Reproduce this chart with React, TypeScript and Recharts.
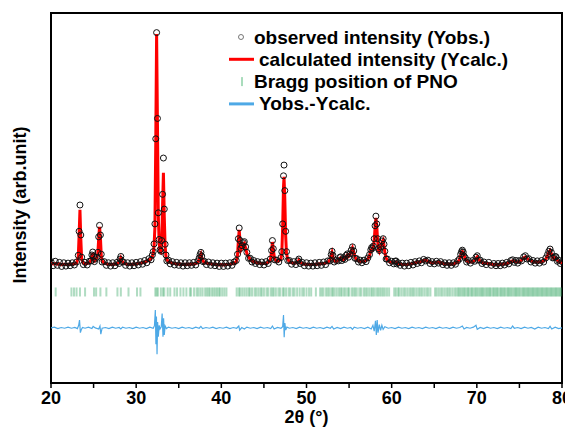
import React from 'react';
import {
  ComposedChart,
  Line,
  Scatter,
  XAxis,
  YAxis,
  ReferenceArea,
  Legend,
} from 'recharts';

// 2theta (deg) vs intensity (arb. units, 0-100 on the plot scale)
const calculated: [number, number][] = [
  [20.0, 32.4], [20.25, 32.2], [20.5, 32.3], [20.75, 32.1], [21.0, 32.2], [21.25, 32.0],
  [21.5, 32.1], [21.75, 32.0], [22.0, 32.1], [22.25, 32.0], [22.5, 32.1], [22.75, 32.2],
  [23.0, 32.4], [23.2, 34.0], [23.3, 40.0], [23.4, 46.8], [23.5, 39.0], [23.6, 33.5],
  [23.8, 32.4], [24.0, 32.2], [24.25, 32.3], [24.5, 32.5], [24.7, 33.2], [24.8, 34.3],
  [24.9, 35.1], [25.0, 34.0], [25.1, 33.0], [25.2, 33.2], [25.4, 34.0], [25.5, 35.0],
  [25.6, 39.0], [25.7, 42.2], [25.8, 39.5], [25.9, 34.5], [26.0, 33.0], [26.25, 32.4],
  [26.5, 32.2], [26.75, 32.1], [27.0, 32.0], [27.25, 32.1], [27.5, 32.1], [27.75, 32.2],
  [28.0, 32.6], [28.1, 33.2], [28.2, 33.8], [28.35, 33.0], [28.5, 32.4], [28.75, 32.2],
  [29.0, 32.1], [29.25, 32.0], [29.5, 32.1], [29.75, 32.1], [30.0, 32.2], [30.25, 32.3],
  [30.5, 32.4], [30.75, 32.5], [31.0, 32.7], [31.25, 32.9], [31.5, 33.2], [31.75, 33.6],
  [31.9, 34.2], [32.0, 35.0], [32.1, 37.0], [32.2, 42.0], [32.3, 65.0], [32.4, 94.3],
  [32.5, 70.0], [32.6, 45.0], [32.7, 38.0], [32.8, 35.5], [32.9, 35.3], [33.0, 38.0],
  [33.1, 48.0], [33.2, 56.8], [33.3, 45.0], [33.4, 37.0], [33.5, 34.2], [33.6, 33.3],
  [33.8, 32.8], [34.0, 32.6], [34.25, 32.4], [34.5, 32.3], [34.75, 32.2], [35.0, 32.1],
  [35.25, 32.1], [35.5, 32.0], [35.75, 32.1], [36.0, 32.0], [36.25, 32.1], [36.5, 32.1],
  [36.75, 32.2], [37.0, 32.3], [37.25, 32.6], [37.4, 33.4], [37.5, 34.4], [37.6, 34.9],
  [37.7, 34.0], [37.85, 33.0], [38.0, 32.6], [38.25, 32.4], [38.5, 32.3], [38.75, 32.2],
  [39.0, 32.1], [39.25, 32.0], [39.5, 32.0], [39.75, 31.9], [40.0, 32.0], [40.25, 31.9],
  [40.5, 32.0], [40.75, 32.0], [41.0, 32.1], [41.25, 32.2], [41.5, 32.3], [41.75, 32.8],
  [41.9, 34.5], [42.0, 38.5], [42.1, 41.4], [42.2, 38.0], [42.3, 36.0], [42.45, 36.8],
  [42.6, 37.6], [42.7, 37.8], [42.85, 36.5], [43.0, 35.0], [43.2, 34.0], [43.4, 33.4],
  [43.6, 33.0], [43.8, 32.8], [44.0, 32.6], [44.25, 32.5], [44.5, 32.4], [44.75, 32.3],
  [45.0, 32.3], [45.25, 32.4], [45.5, 32.6], [45.75, 33.2], [45.9, 35.5], [46.0, 38.1],
  [46.1, 36.0], [46.25, 33.6], [46.5, 32.9], [46.75, 33.0], [47.0, 33.6], [47.1, 35.0],
  [47.2, 42.0], [47.3, 53.0], [47.36, 55.7], [47.45, 50.0], [47.55, 40.0], [47.65, 35.0],
  [47.8, 33.4], [48.0, 32.8], [48.25, 32.5], [48.5, 32.4], [48.75, 32.4], [49.0, 32.7],
  [49.1, 33.2], [49.25, 32.6], [49.5, 32.3], [49.75, 32.1], [50.0, 32.1], [50.25, 32.0],
  [50.5, 32.0], [50.75, 32.0], [51.0, 32.1], [51.25, 32.1], [51.5, 32.2], [51.75, 32.2],
  [52.0, 32.3], [52.25, 32.4], [52.5, 32.6], [52.75, 33.2], [52.9, 34.4], [53.0, 35.2],
  [53.1, 34.2], [53.25, 33.0], [53.5, 32.8], [53.75, 33.2], [53.9, 33.6], [54.0, 33.8],
  [54.15, 33.4], [54.3, 33.3], [54.5, 33.6], [54.65, 34.2], [54.8, 34.6], [54.95, 34.2],
  [55.1, 34.6], [55.25, 35.6], [55.4, 36.5], [55.55, 35.4], [55.7, 34.0], [55.9, 33.3],
  [56.1, 33.0], [56.3, 32.9], [56.5, 32.8], [56.75, 32.9], [57.0, 33.1], [57.2, 33.5],
  [57.4, 34.4], [57.55, 35.8], [57.65, 36.2], [57.75, 36.0], [57.85, 36.6], [57.95, 38.5],
  [58.05, 42.0], [58.15, 44.6], [58.25, 42.5], [58.35, 38.5], [58.45, 36.0], [58.55, 35.5],
  [58.7, 36.5], [58.85, 38.0], [59.0, 38.6], [59.1, 37.2], [59.2, 35.3], [59.35, 33.8],
  [59.5, 33.2], [59.75, 32.8], [60.0, 32.6], [60.25, 32.5], [60.4, 32.6], [60.5, 32.7],
  [60.6, 32.5], [60.75, 32.2], [61.0, 32.1], [61.25, 32.0], [61.5, 32.0], [61.75, 32.0],
  [62.0, 32.1], [62.25, 32.2], [62.5, 32.3], [62.75, 32.5], [63.0, 32.6], [63.25, 32.7],
  [63.5, 32.8], [63.75, 33.1], [64.0, 33.2], [64.25, 32.9], [64.5, 32.6], [64.75, 32.5],
  [65.0, 32.5], [65.25, 32.6], [65.5, 32.7], [65.75, 32.5], [66.0, 32.3], [66.25, 32.2],
  [66.5, 32.2], [66.75, 32.1], [67.0, 32.1], [67.25, 32.2], [67.5, 32.4], [67.75, 32.7],
  [67.95, 33.3], [68.1, 34.5], [68.2, 35.2], [68.3, 35.5], [68.4, 35.2], [68.5, 34.6],
  [68.65, 33.5], [68.8, 33.0], [69.0, 32.8], [69.25, 32.7], [69.5, 32.8], [69.75, 33.1],
  [69.9, 33.7], [70.05, 34.1], [70.2, 33.5], [70.4, 32.9], [70.6, 32.6], [70.85, 32.4],
  [71.1, 32.3], [71.4, 32.3], [71.7, 32.1], [72.0, 32.0], [72.25, 32.0], [72.5, 32.0],
  [72.75, 32.0], [73.0, 32.1], [73.25, 32.2], [73.5, 32.3], [73.75, 32.5], [74.0, 32.8],
  [74.2, 33.0], [74.4, 32.9], [74.6, 32.8], [74.8, 32.7], [75.0, 32.8], [75.25, 33.2],
  [75.5, 33.8], [75.7, 34.1], [75.9, 33.7], [76.1, 33.3], [76.35, 33.0], [76.6, 32.8],
  [76.85, 32.7], [77.1, 32.7], [77.35, 32.7], [77.6, 32.8], [77.85, 33.0], [78.1, 33.5],
  [78.3, 34.4], [78.45, 35.3], [78.6, 35.8], [78.75, 35.0], [78.9, 34.0], [79.05, 33.6],
  [79.2, 33.9], [79.3, 33.8], [79.45, 33.2], [79.6, 32.9], [79.8, 32.6], [80.0, 32.5],
];

const observed: [number, number][] = [
  [20.0, 32.8], [20.25, 31.7], [20.5, 32.9], [20.75, 31.8], [21.0, 32.6], [21.25, 31.5],
  [21.5, 32.5], [21.75, 31.6], [22.0, 32.4], [22.25, 31.7], [22.5, 32.5], [22.75, 31.9],
  [23.0, 32.7], [23.2, 34.5], [23.3, 41.0], [23.4, 48.1], [23.5, 40.0], [23.6, 34.0],
  [23.8, 32.0], [24.0, 32.6], [24.25, 31.9], [24.5, 32.9], [24.7, 33.0], [24.8, 34.6],
  [24.9, 35.4], [25.0, 34.3], [25.1, 32.8], [25.2, 33.5], [25.4, 34.0], [25.5, 35.3],
  [25.6, 39.5], [25.7, 42.6], [25.8, 40.0], [25.9, 34.8], [26.0, 32.7], [26.25, 32.8],
  [26.5, 31.8], [26.75, 32.5], [27.0, 31.6], [27.25, 32.5], [27.5, 31.7], [27.75, 32.6],
  [28.0, 32.3], [28.1, 33.5], [28.2, 34.2], [28.35, 32.8], [28.5, 32.7], [28.75, 31.8],
  [29.0, 32.5], [29.25, 31.6], [29.5, 32.5], [29.75, 31.7], [30.0, 32.6], [30.25, 31.9],
  [30.5, 32.8], [30.75, 32.1], [31.0, 33.1], [31.25, 32.5], [31.5, 33.6], [31.75, 33.3],
  [31.9, 34.6], [32.0, 35.5], [32.1, 37.6], [32.2, 43.0], [32.3, 66.0], [32.4, 94.7],
  [32.5, 71.5], [32.6, 46.0], [32.7, 38.8], [32.8, 36.0], [32.9, 35.6], [33.0, 38.5],
  [33.1, 51.0], [33.2, 60.8], [33.3, 47.0], [33.4, 37.5], [33.5, 34.6], [33.6, 33.0],
  [33.8, 33.2], [34.0, 32.2], [34.25, 32.8], [34.5, 31.9], [34.75, 32.6], [35.0, 31.8],
  [35.25, 32.5], [35.5, 31.6], [35.75, 32.5], [36.0, 31.7], [36.25, 32.5], [36.5, 31.8],
  [36.75, 32.6], [37.0, 31.9], [37.25, 33.0], [37.4, 33.8], [37.5, 34.7], [37.6, 35.3],
  [37.7, 34.3], [37.85, 32.8], [38.0, 32.9], [38.25, 32.0], [38.5, 32.7], [38.75, 31.8],
  [39.0, 32.5], [39.25, 31.7], [39.5, 32.4], [39.75, 31.5], [40.0, 32.4], [40.25, 31.5],
  [40.5, 32.4], [40.75, 31.6], [41.0, 32.5], [41.25, 31.8], [41.5, 32.7], [41.75, 33.1],
  [41.9, 34.8], [42.0, 39.0], [42.1, 41.9], [42.2, 38.5], [42.3, 36.4], [42.45, 37.1],
  [42.6, 37.9], [42.7, 38.2], [42.85, 36.8], [43.0, 35.3], [43.2, 33.7], [43.4, 33.7],
  [43.6, 32.7], [43.8, 33.1], [44.0, 32.3], [44.25, 32.8], [44.5, 32.0], [44.75, 32.7],
  [45.0, 31.9], [45.25, 32.8], [45.5, 32.3], [45.75, 33.5], [45.9, 35.8], [46.0, 38.5],
  [46.1, 36.3], [46.25, 33.3], [46.5, 33.2], [46.75, 32.7], [47.0, 33.9], [47.1, 35.5],
  [47.2, 43.0], [47.3, 56.0], [47.36, 58.9], [47.45, 52.0], [47.55, 41.0], [47.65, 35.5],
  [47.8, 33.1], [48.0, 33.1], [48.25, 32.1], [48.5, 32.8], [48.75, 32.0], [49.0, 33.0],
  [49.1, 33.5], [49.25, 32.3], [49.5, 32.6], [49.75, 31.7], [50.0, 32.5], [50.25, 31.6],
  [50.5, 32.4], [50.75, 31.6], [51.0, 32.5], [51.25, 31.7], [51.5, 32.6], [51.75, 31.8],
  [52.0, 32.7], [52.25, 32.0], [52.5, 33.0], [52.75, 33.0], [52.9, 34.7], [53.0, 35.6],
  [53.1, 34.5], [53.25, 32.7], [53.5, 33.1], [53.75, 33.0], [53.9, 33.9], [54.0, 34.1],
  [54.15, 33.1], [54.3, 33.6], [54.5, 33.4], [54.65, 34.5], [54.8, 34.9], [54.95, 34.0],
  [55.1, 34.9], [55.25, 35.9], [55.4, 36.8], [55.55, 35.7], [55.7, 33.7], [55.9, 33.6],
  [56.1, 32.7], [56.3, 33.2], [56.5, 32.5], [56.75, 33.2], [57.0, 32.8], [57.2, 33.8],
  [57.4, 34.7], [57.55, 36.0], [57.65, 36.6], [57.75, 36.4], [57.85, 37.0], [57.95, 39.0],
  [58.05, 42.5], [58.15, 45.1], [58.25, 43.0], [58.35, 39.0], [58.45, 36.3], [58.55, 35.8],
  [58.7, 36.8], [58.85, 38.4], [59.0, 39.0], [59.1, 37.5], [59.2, 35.6], [59.35, 33.5],
  [59.5, 33.5], [59.75, 32.5], [60.0, 32.9], [60.25, 32.2], [60.4, 32.9], [60.5, 33.0],
  [60.6, 32.2], [60.75, 32.5], [61.0, 31.8], [61.25, 32.4], [61.5, 31.6], [61.75, 32.4],
  [62.0, 31.7], [62.25, 32.6], [62.5, 31.9], [62.75, 32.8], [63.0, 32.3], [63.25, 33.0],
  [63.5, 32.5], [63.75, 33.4], [64.0, 33.0], [64.25, 33.2], [64.5, 32.3], [64.75, 32.8],
  [65.0, 32.2], [65.25, 32.9], [65.5, 32.4], [65.75, 32.8], [66.0, 32.0], [66.25, 32.5],
  [66.5, 31.8], [66.75, 32.5], [67.0, 31.8], [67.25, 32.5], [67.5, 32.1], [67.75, 33.0],
  [67.95, 33.5], [68.1, 34.8], [68.2, 35.5], [68.3, 35.9], [68.4, 35.4], [68.5, 34.3],
  [68.65, 33.8], [68.8, 32.7], [69.0, 33.1], [69.25, 32.4], [69.5, 33.1], [69.75, 32.9],
  [69.9, 34.0], [70.05, 34.4], [70.2, 33.2], [70.4, 33.2], [70.6, 32.3], [70.85, 32.7],
  [71.1, 32.0], [71.4, 32.6], [71.7, 31.8], [72.0, 32.3], [72.25, 31.7], [72.5, 32.3],
  [72.75, 31.7], [73.0, 32.4], [73.25, 31.9], [73.5, 32.6], [73.75, 32.2], [74.0, 33.1],
  [74.2, 33.3], [74.4, 32.6], [74.6, 33.1], [74.8, 32.4], [75.0, 33.1], [75.25, 33.0],
  [75.5, 34.1], [75.7, 34.4], [75.9, 33.5], [76.1, 33.6], [76.35, 32.7], [76.6, 33.1],
  [76.85, 32.4], [77.1, 33.0], [77.35, 32.4], [77.6, 33.1], [77.85, 32.7], [78.1, 33.8],
  [78.3, 34.7], [78.45, 35.6], [78.6, 36.2], [78.75, 35.3], [78.9, 33.8], [79.05, 33.9],
  [79.2, 34.2], [79.3, 34.1], [79.45, 32.9], [79.6, 33.2], [79.8, 32.3], [80.0, 32.8],
];

const difference: [number, number][] = [
  [20.0, 14.9], [20.4, 15.1], [20.8, 14.7], [21.2, 15.0], [21.6, 14.8], [22.0, 15.1],
  [22.4, 14.8], [22.8, 15.0], [23.1, 14.7], [23.25, 15.6], [23.35, 17.0], [23.45, 13.6],
  [23.55, 14.4], [23.7, 15.0], [24.0, 14.8], [24.4, 15.1], [24.8, 14.7], [24.95, 15.3],
  [25.2, 14.9], [25.6, 14.6], [25.75, 15.4], [25.85, 13.2], [26.0, 14.8], [26.4, 15.0],
  [26.8, 14.7], [27.2, 15.1], [27.6, 14.8], [28.0, 15.0], [28.2, 14.6], [28.4, 15.1],
  [28.8, 14.8], [29.2, 15.0], [29.6, 14.7], [30.0, 15.1], [30.4, 14.8], [30.8, 15.0],
  [31.2, 14.7], [31.6, 15.1], [32.0, 14.8], [32.15, 15.5], [32.25, 19.7], [32.32, 10.5],
  [32.38, 18.0], [32.45, 7.8], [32.52, 16.5], [32.6, 12.5], [32.7, 15.6], [32.8, 14.6],
  [32.95, 15.2], [33.05, 18.8], [33.15, 12.5], [33.22, 17.5], [33.3, 13.0], [33.4, 15.4],
  [33.55, 14.7], [33.8, 15.1], [34.2, 14.8], [34.6, 15.0], [35.0, 14.7], [35.4, 15.1],
  [35.8, 14.8], [36.2, 15.0], [36.6, 14.7], [37.0, 15.1], [37.4, 14.8], [37.6, 15.3],
  [37.8, 14.7], [38.2, 15.0], [38.6, 14.8], [39.0, 15.1], [39.4, 14.7], [39.8, 15.0],
  [40.2, 14.8], [40.6, 15.1], [41.0, 14.7], [41.4, 15.0], [41.8, 14.8], [42.05, 15.4],
  [42.15, 14.3], [42.4, 15.0], [42.7, 14.6], [43.0, 15.1], [43.4, 14.8], [43.8, 15.0],
  [44.2, 14.7], [44.6, 15.1], [45.0, 14.8], [45.4, 15.0], [45.8, 14.7], [46.0, 15.4],
  [46.2, 14.6], [46.6, 15.0], [47.0, 14.8], [47.2, 15.2], [47.3, 18.4], [47.38, 12.4],
  [47.46, 16.2], [47.56, 14.3], [47.7, 15.1], [48.0, 14.8], [48.4, 15.0], [48.8, 14.7],
  [49.2, 15.1], [49.6, 14.8], [50.0, 15.0], [50.4, 14.7], [50.8, 15.1], [51.2, 14.8],
  [51.6, 15.0], [52.0, 14.7], [52.4, 15.1], [52.8, 14.8], [53.0, 15.3], [53.2, 14.6],
  [53.6, 15.0], [54.0, 14.7], [54.4, 15.1], [54.8, 14.8], [55.2, 15.0], [55.4, 14.5],
  [55.6, 15.1], [56.0, 14.8], [56.4, 15.0], [56.8, 14.7], [57.2, 15.1], [57.6, 14.6],
  [57.8, 15.6], [57.95, 14.0], [58.1, 16.8], [58.2, 13.0], [58.3, 17.0], [58.4, 13.6],
  [58.55, 15.8], [58.7, 14.2], [58.85, 15.6], [59.0, 14.5], [59.2, 15.2], [59.6, 14.8],
  [60.0, 15.0], [60.4, 14.7], [60.8, 15.1], [61.2, 14.8], [61.6, 15.0], [62.0, 14.7],
  [62.4, 15.1], [62.8, 14.8], [63.2, 15.0], [63.6, 14.7], [64.0, 15.1], [64.4, 14.8],
  [64.8, 15.0], [65.2, 14.7], [65.6, 15.1], [66.0, 14.8], [66.4, 15.0], [66.8, 14.7],
  [67.2, 15.1], [67.6, 14.8], [68.0, 15.0], [68.3, 15.4], [68.5, 14.6], [68.8, 15.0],
  [69.2, 14.8], [69.6, 15.1], [69.9, 15.6], [70.05, 14.5], [70.4, 15.0], [70.8, 14.7],
  [71.2, 15.1], [71.6, 14.8], [72.0, 15.0], [72.4, 14.7], [72.8, 15.1], [73.2, 14.8],
  [73.6, 15.0], [74.0, 14.7], [74.2, 15.4], [74.4, 14.8], [74.8, 15.0], [75.2, 14.7],
  [75.6, 15.1], [76.0, 14.8], [76.4, 15.0], [76.8, 14.6], [77.2, 15.1], [77.6, 14.8],
  [78.0, 15.0], [78.4, 14.7], [78.6, 15.3], [78.8, 14.6], [79.2, 15.1], [79.6, 14.7],
  [80.0, 14.9],
];

// Bragg reflection positions of PNO (2theta, deg)
const braggPositions: number[] = [
  20.55, 22.4, 22.7, 23.0, 23.4, 24.0, 25.05, 25.3, 25.8, 26.5, 27.8, 28.2, 29.1, 30.1, 30.5,
  32.25, 32.4, 32.55, 32.9, 33.15, 33.3, 33.7, 34.0, 34.5, 34.8, 35.2, 35.55, 35.9, 36.3,
  36.45, 36.8, 37.1, 37.3, 37.55, 37.8, 38.1, 38.3, 38.5, 38.65, 38.9, 39.1, 39.3, 39.5,
  39.7, 39.85, 40.1, 40.35, 40.6,
  41.8, 42.05, 42.2, 42.45, 42.7, 42.95, 43.2, 43.35, 43.6, 43.9, 44.1, 44.35, 44.6, 44.75,
  45.0, 45.3, 45.5, 45.8, 46.0, 46.15, 46.4, 46.7, 46.9, 47.2, 47.35, 47.6, 47.9, 48.1,
  48.4, 48.6, 48.9, 49.2, 49.5, 49.7, 50.0, 50.3, 50.55, 51.1,
  51.6, 51.8, 52.0, 52.3, 52.5, 52.7, 52.95, 53.1, 53.3, 53.55, 53.8, 54.0, 54.15, 54.4,
  54.6, 54.85, 55.0, 55.3, 55.5, 55.7, 55.9, 56.2, 56.4, 56.7, 56.9, 57.1, 57.35, 57.6,
  57.75, 57.95, 58.2, 58.4, 58.6, 58.8, 59.0, 59.2, 59.45, 59.7,
  60.3, 60.5, 60.75, 60.9, 61.15, 61.4, 61.6, 61.85, 62.1, 62.3, 62.5, 62.7, 62.95, 63.2,
  63.4, 63.6, 63.85, 64.1, 64.3, 64.55,
  65.1, 65.3, 65.55, 65.8, 66.0, 66.25, 66.5, 66.7, 66.9, 67.15, 67.4, 67.6, 67.8, 67.95,
  68.1, 68.3, 68.45, 68.6, 68.8, 68.95, 69.1, 69.3, 69.45, 69.6, 69.8, 69.95, 70.1, 70.3,
  70.45, 70.6, 70.75, 70.9, 71.1, 71.25, 71.4, 71.55, 71.7, 71.9, 72.05, 72.2, 72.35, 72.5,
  72.7, 72.85, 73.0, 73.15, 73.3, 73.5, 73.65, 73.8, 73.95, 74.1, 74.3, 74.45, 74.6, 74.75,
  74.9, 75.05, 75.25, 75.4, 75.55, 75.7, 75.85, 76.0, 76.15, 76.3, 76.45, 76.6, 76.75,
  76.9, 77.05, 77.2, 77.35, 77.5, 77.65, 77.8, 77.95, 78.1, 78.25, 78.4, 78.55, 78.7,
  78.85, 79.0, 79.15, 79.3, 79.45, 79.6, 79.75, 79.9,
];
const braggLevel = 24.6;

const xTicks = [20, 25, 30, 35, 40, 45, 50, 55, 60, 65, 70, 75, 80];

const FONT = '"Liberation Sans", Arial, sans-serif';
const RED = '#ff0000';
const BLUE = '#4ea9e6';
const GREEN = '#3aa866';

const calcData = calculated.map(([x, y]) => ({ x, y }));
const obsData = observed.map(([x, y]) => ({ x, y }));
const diffData = difference.map(([x, y]) => ({ x, y }));
const braggData = braggPositions.map((x) => ({ x, y: braggLevel }));

const ObsMarker = (props: any) => (
  <circle cx={props.cx} cy={props.cy} r={3} fill="none" stroke="#111" strokeWidth={1} />
);

const BraggMarker = (props: any) => (
  <rect x={props.cx - 1} y={props.cy - 4.5} width={2} height={9} fill={GREEN} fillOpacity={0.4} />
);

const legendRows = [
  { label: 'observed intensity (Yobs.)', kind: 'circle' },
  { label: 'calculated intensity (Ycalc.)', kind: 'red' },
  { label: 'Bragg position of PNO', kind: 'tick' },
  { label: 'Yobs.-Ycalc.', kind: 'blue' },
];

const LegendBox = () => (
  <svg width={320} height={100} style={{ overflow: 'visible' }}>
    {legendRows.map((row, i) => {
      const y = 14 + i * 22.3;
      return (
        <g key={row.label}>
          {row.kind === 'circle' && (
            <circle cx={23} cy={y} r={2.5} fill="none" stroke="#555" strokeWidth={0.8} />
          )}
          {row.kind === 'red' && <line x1={11} x2={36} y1={y} y2={y} stroke={RED} strokeWidth={3} />}
          {row.kind === 'tick' && <rect x={23} y={y - 4.5} width={2} height={9} fill="#a9dcbc" />}
          {row.kind === 'blue' && <line x1={11} x2={36} y1={y} y2={y} stroke={BLUE} strokeWidth={3} />}
          <text
            x={row.kind === 'red' || row.kind === 'blue' ? 41 : 36}
            y={y}
            dominantBaseline="central"
            fontSize={19}
            fontWeight={700}
            fill="#000"
            fontFamily={FONT}
          >
            {row.label}
          </text>
        </g>
      );
    })}
  </svg>
);

const App: React.FC = () => (
  <div style={{ width: 573, height: 438, fontFamily: FONT }}>
    <style>{'html,body{overflow:hidden}'}</style>
    <ComposedChart width={573} height={438} margin={{ top: 5, right: 19, bottom: 33, left: 0 }}>
      <XAxis
        type="number"
        dataKey="x"
        domain={[20, 80]}
        ticks={xTicks}
        allowDataOverflow
        height={30}
        axisLine={{ stroke: '#000', strokeWidth: 2 }}
        tickLine={{ stroke: '#000', strokeWidth: 1.5 }}
        tickSize={5}
        tickMargin={3}
        tick={{ fill: '#000', fontSize: 18, fontWeight: 700 }}
        tickFormatter={(v: number) => (v % 10 === 0 ? String(v) : '')}
        label={{
          content: (p: any) => {
            const vb = p.viewBox;
            return (
              <text
                x={vb.x + vb.width / 2}
                y={vb.y + vb.height + 10}
                textAnchor="middle"
                fontSize={18}
                fontWeight={700}
                fill="#000"
              >
                2θ (°)
              </text>
            );
          },
        }}
      />
      <YAxis
        type="number"
        domain={[0, 100]}
        allowDataOverflow
        width={43}
        tick={false}
        tickLine={false}
        axisLine={false}
        label={{
          content: (p: any) => {
            const vb = p.viewBox;
            const cx = 12;
            const cy = vb.y + vb.height / 2 + 7;
            return (
              <text
                x={cx}
                y={cy}
                transform={`rotate(-90 ${cx} ${cy})`}
                textAnchor="middle"
                dominantBaseline="central"
                fontSize={18}
                fontWeight={700}
                fill="#000"
              >
                Intensity (arb.unit)
              </text>
            );
          },
        }}
      />
      <Scatter data={obsData} dataKey="y" shape={ObsMarker} isAnimationActive={false} />
      <Line
        data={calcData}
        dataKey="y"
        type="linear"
        stroke={RED}
        strokeWidth={3}
        dot={false}
        isAnimationActive={false}
      />
      <Scatter data={braggData} dataKey="y" shape={BraggMarker} isAnimationActive={false} />
      <Line
        data={diffData}
        dataKey="y"
        type="linear"
        stroke={BLUE}
        strokeWidth={1.2}
        dot={false}
        isAnimationActive={false}
      />
      <ReferenceArea
        x1={20}
        x2={80}
        y1={0}
        y2={100}
        fill="none"
        stroke="#000"
        strokeWidth={2}
        ifOverflow="visible"
      />
      <Legend
        layout="horizontal"
        verticalAlign="middle"
        align="center"
        content={() => <LegendBox />}
        wrapperStyle={{ position: 'absolute', top: 15, left: 210, width: 320, height: 100 }}
      />
    </ComposedChart>
  </div>
);

export default App;
